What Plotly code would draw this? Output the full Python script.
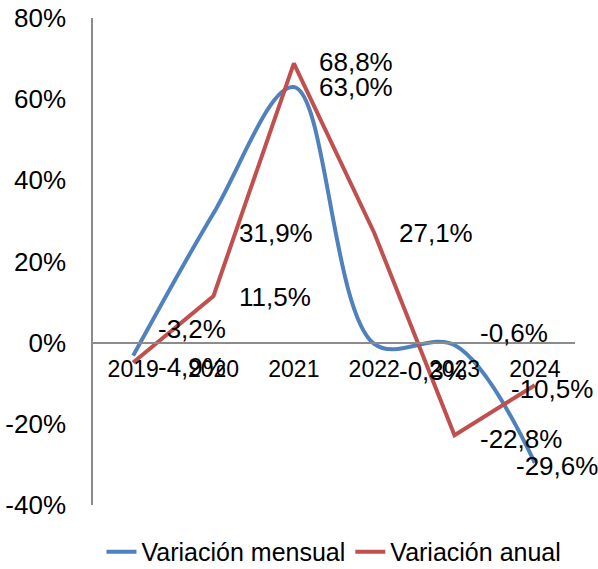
import plotly.graph_objects as go

# ── datos ─────────────────────────────────────────────────────────────────────
years = ["2019", "2020", "2021", "2022", "2023", "2024"]
var_mensual = [-3.2, 31.9, 63.0, -0.3, -0.6, -29.6]
var_anual = [-4.9, 11.5, 68.8, 27.1, -22.8, -10.5]
y_ticks = [-40, -20, 0, 20, 40, 60, 80]
y_ticktext = ["-40%", "-20%", "0%", "20%", "40%", "60%", "80%"]

# desplazamiento manual de las etiquetas (px), como en el original
shift_mensual = [(23, 27), (23, -20), (23, 0), (23, -27), (23, 12), (-21, -3)]
shift_anual = [(23, -4), (23, -1), (23, 1), (23, 0), (23, -4), (-26, -4)]

BLUE = "#4F81BD"
RED = "#C0504D"
AXIS = "#8C8C8C"
FONT = "Arial, Liberation Sans, sans-serif"

xpos = list(range(len(years)))


def fmt(v):
    return f"{v:.1f}".replace(".", ",") + "%"


fig = go.Figure()
fig.add_trace(go.Scatter(
    x=xpos, y=var_mensual, name="Variación mensual", mode="lines",
    line=dict(color=BLUE, width=4, shape="spline", smoothing=1),
))
fig.add_trace(go.Scatter(
    x=xpos, y=var_anual, name="Variación anual", mode="lines",
    line=dict(color=RED, width=4),
))

for vals, shifts in ((var_mensual, shift_mensual), (var_anual, shift_anual)):
    for x, v, (dx, dy) in zip(xpos, vals, shifts):
        fig.add_annotation(
            x=x, y=v, xref="x", yref="y", text=fmt(v), showarrow=False,
            xanchor="left", yanchor="middle", xshift=dx, yshift=dy,
            font=dict(size=26, color="black", family=FONT),
        )

fig.update_layout(
    width=598, height=569,
    margin=dict(l=93, r=23, t=18, b=64, autoexpand=False),
    paper_bgcolor="white", plot_bgcolor="white",
    font=dict(family=FONT, size=24, color="black"),
    showlegend=True,
    legend=dict(
        orientation="h", x=0.5, xanchor="center", y=-0.0965, yanchor="middle",
        font=dict(size=25),
    ),
)
fig.update_yaxes(
    range=[-40, 80], tickmode="array", tickvals=y_ticks, ticktext=y_ticktext,
    showgrid=False, zeroline=False, automargin=False,
    showline=True, linecolor=AXIS, linewidth=1.5,
    ticks="outside", ticklen=20, tickcolor="rgba(0,0,0,0)",
    tickfont=dict(size=26),
)
fig.update_xaxes(
    range=[-0.5, 5.5], tickmode="array", tickvals=xpos, ticktext=years,
    anchor="free", position=1 / 3,
    showgrid=False, zeroline=False, automargin=False,
    showline=True, linecolor=AXIS, linewidth=1.5,
    ticks="outside", ticklen=6, tickcolor="rgba(0,0,0,0)",
    tickfont=dict(size=23),
)

fig.write_html(
    "out.html",
    config={"displayModeBar": False},
    post_script="document.body.style.margin = '0';",
)
